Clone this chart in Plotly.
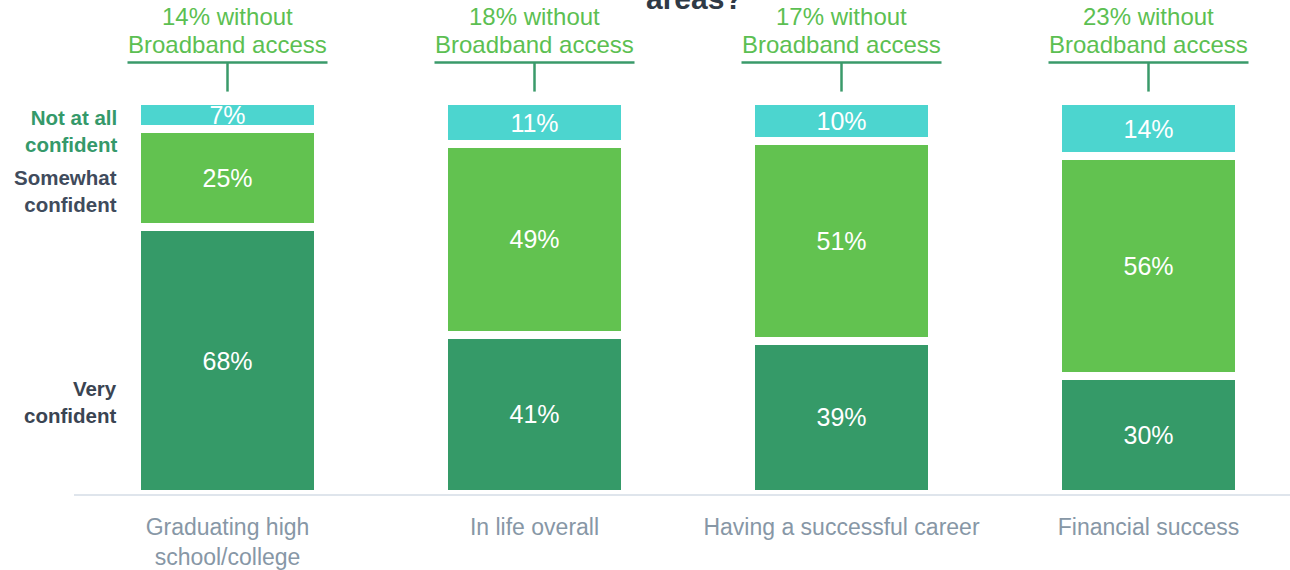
import plotly.graph_objects as go

categories = ["Graduating high<br>school/college", "In life overall",
              "Having a successful career", "Financial success"]
very_confident = [68, 41, 39, 30]
somewhat_confident = [25, 49, 51, 56]
not_confident = [7, 11, 10, 14]
without_broadband = [14, 18, 17, 23]

series = [
    ("Very confident", very_confident, "#359a68"),
    ("Somewhat confident", somewhat_confident, "#62c250"),
    ("Not at all confident", not_confident, "#4cd5cf"),
]

xs = list(range(len(categories)))
fig = go.Figure()
for name, vals, col in series:
    fig.add_trace(go.Bar(
        x=xs, y=vals, name=name, width=0.59,
        marker=dict(color=col, line=dict(color="white", width=8)),
        text=[f"{v}%" for v in vals], textposition="inside",
        insidetextanchor="middle", constraintext="none",
        textfont=dict(family="Liberation Sans, Arial", size=25, color="white"),
        hoverinfo="skip",
    ))

ann = []
shapes = []
half = 100 / 307
top_font = dict(family="Liberation Sans, Arial", size=24, color="#5cbf52")
for i, w in enumerate(without_broadband):
    ann.append(dict(x=i, y=121.5, xref="x", yref="y", showarrow=False,
                    text=f"{w}% without", font=top_font,
                    xanchor="center", yanchor="middle"))
    ann.append(dict(x=i, y=114.4, xref="x", yref="y", showarrow=False,
                    text="Broadband access", font=top_font,
                    xanchor="center", yanchor="middle"))
    shapes.append(dict(type="line", xref="x", yref="y", x0=i - half, x1=i + half,
                       y0=109.9, y1=109.9, line=dict(color="#3a9a6a", width=2.5)))
    shapes.append(dict(type="line", xref="x", yref="y", x0=i, x1=i,
                       y0=109.9, y1=102.5, line=dict(color="#3a9a6a", width=2.5)))

left_labels = [("Not at all<br>confident", 92.4, "#35996a"),
               ("Somewhat<br>confident", 77.2, "#3f4b5c"),
               ("Very<br>confident", 23.5, "#3a4452")]
for txt, yv, col in left_labels:
    ann.append(dict(x=-0.3535, y=yv, xref="x", yref="y", showarrow=False, text=f"<b>{txt}</b>",
                    align="right", xanchor="right", yanchor="middle",
                    font=dict(family="Liberation Sans, Arial", size=20.5, color=col)))

ann.append(dict(x=0.51, y=1, xref="paper", yref="paper", showarrow=False,
                text="<b>areas?</b>", xanchor="center", yanchor="middle", yshift=2,
                font=dict(family="Liberation Sans, Arial", size=30, color="#2f3a46")))

fig.update_layout(
    width=1290, height=570, barmode="stack", barnorm="percent",
    margin=dict(l=74, r=0, t=0, b=73),
    plot_bgcolor="white", paper_bgcolor="white", showlegend=False,
    annotations=ann, shapes=shapes,
    xaxis=dict(range=[-0.5, -0.5 + 1216 / 307], tickvals=xs, ticktext=categories,
               showline=True, linecolor="#dfe5ec", linewidth=2, showgrid=False,
               zeroline=False, ticks="", ticklabelstandoff=11,
               tickfont=dict(family="Liberation Sans, Arial", size=23, color="#8797a6")),
    yaxis=dict(range=[0, 100 * 497 / 395], visible=False, showgrid=False, zeroline=False),
)
fig.write_html("out.html", config={"displayModeBar": False},
               post_script="document.body.style.margin='0';")
